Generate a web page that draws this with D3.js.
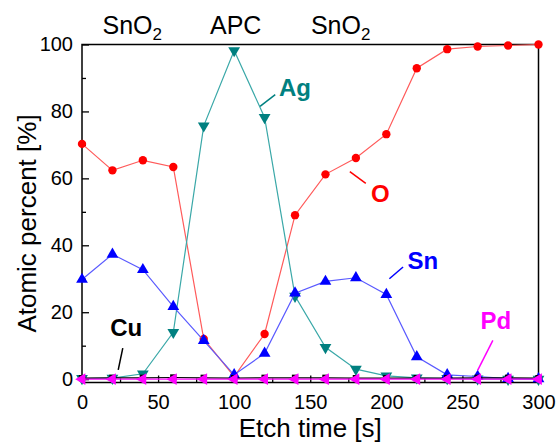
<!DOCTYPE html>
<html>
<head>
<meta charset="utf-8">
<script src="https://cdn.jsdelivr.net/npm/d3@7"></script>
<style>
  body { margin: 0; background: #fff; }
  svg { display: block; font-family: Arial, "Liberation Sans", sans-serif; }
</style>
</head>
<body>
<svg id="chart" width="556" height="443"></svg>
<script>
'use strict'

// ------------------------------------------------------------------
// ---------------------------------------------------- DATA --------

let etchTime = [0, 20, 40, 60, 80, 100, 120, 140, 160, 180, 200, 220, 240, 260, 280, 300]

let oxygen = [70.3, 62.4, 65.4, 63.4, 12.0, 0.8, 13.5, 49.0, 61.2, 66.1, 73.2, 92.9, 98.6, 99.4, 99.7, 100]
let silver = [0.2, 0.3, 1.6, 14.0, 75.7, 98.2, 78.2, 24.8, 9.5, 3.0, 1.0, 0.4, 0.2, 0.1, 0, 0]
let tin    = [29.8, 37.3, 32.7, 21.7, 11.5, 1.3, 7.7, 25.7, 29.2, 30.3, 25.3, 6.7, 1.3, 0.8, 0.2, 0.1]
let copper = [0.3, 0.4, 0.4, 0.5, 0.4, 0.3, 0.4, 0.4, 0.4, 0.3, 0.3, 0.3, 0.3, 0.4, 0.4, 0.3]
let palladium = [0, 0, 0, 0, 0, 0, 0, 0, 0, 0, 0, 0, 0, 0, 0, 0]

let xTicks = [0, 50, 100, 150, 200, 250, 300]
let xMinorTicks = [25, 75, 125, 175, 225, 275]
let yTicks = [0, 20, 40, 60, 80, 100]
let yMinorTicks = [10, 30, 50, 70, 90]

let layerLabels = [
  {text: 'SnO', sub: '2', x: 33},
  {text: 'APC', sub: '', x: 101},
  {text: 'SnO', sub: '2', x: 170}
]

let series = [
  {name: 'O',  values: oxygen,    color: '#ff0000', line: '#ff5a5a', symbol: d3.symbolCircle,   size: 55, angle: 0},
  {name: 'Ag', values: silver,    color: '#008080', line: '#3aa8a8', symbol: d3.symbolTriangle, size: 60, angle: 180},
  {name: 'Sn', values: tin,       color: '#0000ff', line: '#5a5aff', symbol: d3.symbolTriangle, size: 60, angle: 0},
  {name: 'Cu', values: copper,    color: '#000000', line: '#000000', symbol: d3.symbolSquare,   size: 40, angle: 0},
  {name: 'Pd', values: palladium, color: '#ff00ff', line: '#ff00ff', symbol: d3.symbolTriangle, size: 60, angle: 270}
]

// label position (data units) and leader line (data units)
let seriesLabels = [
  {name: 'Ag', color: '#008080', tx: 140, ty: 84.5, l: [[127, 85], [117, 81.5]]},
  {name: 'O',  color: '#ff0000', tx: 196, ty: 53,   l: [[176, 62], [186.5, 58.5]]},
  {name: 'Sn', color: '#0000ff', tx: 224, ty: 33,   l: [[202, 30], [211, 33.5]]},
  {name: 'Pd', color: '#ff00ff', tx: 272, ty: 15,   l: [[270, 11.6], [260, 2.6]]},
  {name: 'Cu', color: '#000000', tx: 29,  ty: 13,   l: [[26.8, 9.3], [23.8, 2.8]]}
]

// ------------------------------------------------------------------
// ------------------------------------------- POSITIONNING ---------

let svg = d3.select('#chart')

let plotLeft = 82
let plotRight = 538.5
let plotTop = 44.5
let plotBottom = 382.5

let xScale = d3.scaleLinear().domain([0, 300]).range([plotLeft, plotRight])
let yScale = d3.scaleLinear().domain([-1, 100]).range([plotBottom, plotTop])

// ------------------------------------------------------------------
// ------------------------------------------------- AXIS -----------

svg.append('g')
  .attr('transform', 'translate(0,' + plotBottom + ')')
  .call(d3.axisBottom(xScale).tickValues(xTicks).tickSize(-7).tickSizeOuter(0).tickPadding(12))
svg.append('g')
  .attr('transform', 'translate(0,' + plotBottom + ')')
  .call(d3.axisBottom(xScale).tickValues(xMinorTicks).tickSize(-4).tickSizeOuter(0).tickFormat(''))

svg.append('g')
  .attr('transform', 'translate(' + plotLeft + ',0)')
  .call(d3.axisLeft(yScale).tickValues(yTicks).tickSize(-7).tickSizeOuter(0).tickPadding(9))
svg.append('g')
  .attr('transform', 'translate(' + plotLeft + ',0)')
  .call(d3.axisLeft(yScale).tickValues(yMinorTicks).tickSize(-4).tickSizeOuter(0).tickFormat(''))

svg.selectAll('.domain').remove()
svg.selectAll('.tick line').attr('stroke', '#000').attr('stroke-width', 1.3)
svg.selectAll('.tick text')
  .attr('fill', '#000')
  .style('font-size', '20px')
  .style('font-family', 'Arial, "Liberation Sans", sans-serif')

svg.append('rect')
  .attr('x', plotLeft)
  .attr('y', plotTop)
  .attr('width', plotRight - plotLeft)
  .attr('height', plotBottom - plotTop)
  .attr('fill', 'none')
  .attr('stroke', '#000')
  .attr('stroke-width', 1.5)

svg.append('text')
  .attr('x', (plotLeft + plotRight) / 2)
  .attr('y', 437)
  .attr('text-anchor', 'middle')
  .style('font-size', '26px')
  .text('Etch time [s]')

svg.append('text')
  .attr('transform', 'translate(36,' + ((plotTop + plotBottom) / 2 + 10) + ') rotate(-90)')
  .attr('text-anchor', 'middle')
  .style('font-size', '26px')
  .text('Atomic percent [%]')

// layer names over the plot
layerLabels.forEach(lab => {
  let t = svg.append('text')
    .attr('x', xScale(lab.x))
    .attr('y', 34)
    .attr('text-anchor', 'middle')
    .style('font-size', '25px')
  t.append('tspan').text(lab.text)
  if(lab.sub != '')
    t.append('tspan').attr('dy', 6).style('font-size', '17px').text(lab.sub)
})

// ------------------------------------------------------------------
// ------------------------------------------------- DISPLAY DATA ---

let lineFunction = d3.line()
  .x((d, i) => xScale(etchTime[i]))
  .y(d => yScale(d))

let displayG = svg.append('g')

series.forEach(s => {
  let g = displayG.append('g')
  g.append('path')
    .attr('d', lineFunction(s.values))
    .attr('fill', 'none')
    .attr('stroke', s.line)
    .attr('stroke-width', 1.2)

  g.selectAll('path.pt').data(s.values)
    .enter()
    .append('path')
      .attr('class', 'pt')
      .attr('d', d3.symbol().type(s.symbol).size(s.size))
      .attr('transform', (d, i) => 'translate(' + xScale(etchTime[i]) + ',' + yScale(d) + ') rotate(' + s.angle + ')')
      .attr('fill', s.color)
})

// ------------------------------------------------------------------
// ----------------------------------------------- ANNOTATIONS ------

seriesLabels.forEach(lab => {
  svg.append('line')
    .attr('x1', xScale(lab.l[0][0]))
    .attr('y1', yScale(lab.l[0][1]))
    .attr('x2', xScale(lab.l[1][0]))
    .attr('y2', yScale(lab.l[1][1]))
    .attr('stroke', lab.color)
    .attr('stroke-width', 1.5)

  svg.append('text')
    .attr('x', xScale(lab.tx))
    .attr('y', yScale(lab.ty))
    .attr('text-anchor', 'middle')
    .attr('fill', lab.color)
    .style('font-size', '24px')
    .style('font-weight', 'bold')
    .text(lab.name)
})
</script>
</body>
</html>
